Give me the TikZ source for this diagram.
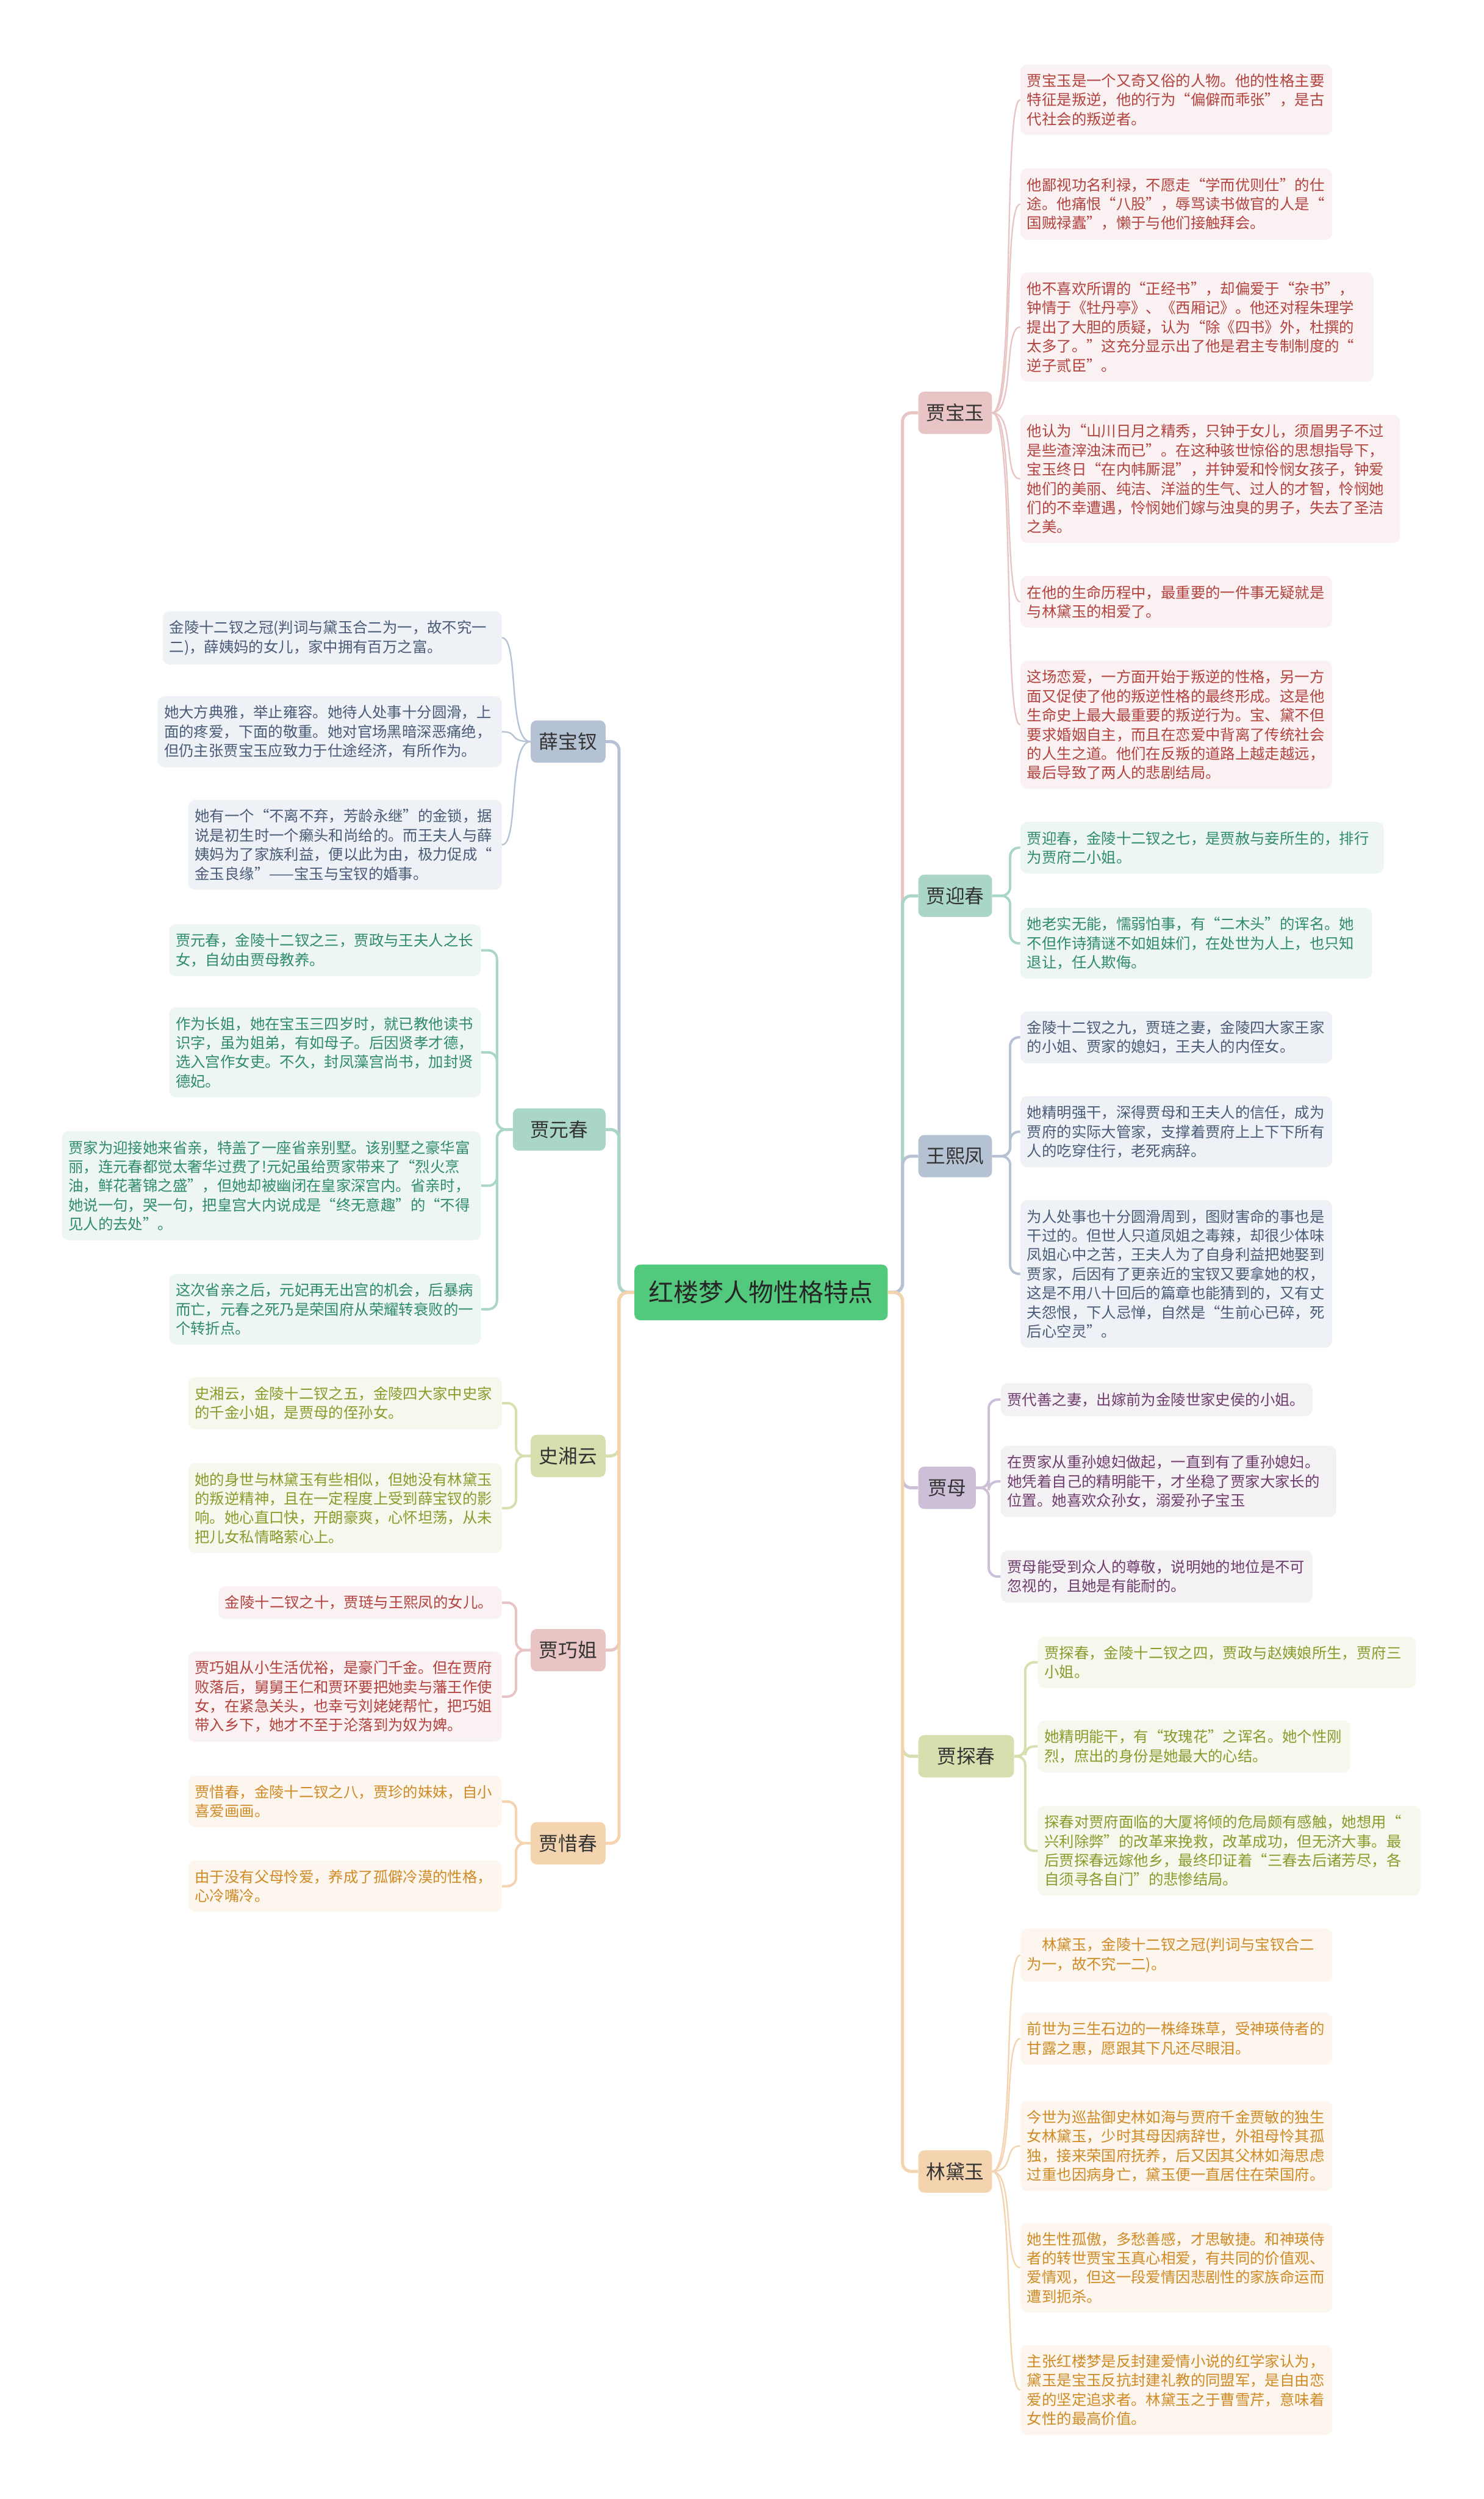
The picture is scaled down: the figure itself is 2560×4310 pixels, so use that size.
\documentclass[tikz,border=0pt]{standalone}
\usepackage{fontspec}
\setmainfont{Noto Sans CJK SC}
\definecolor{rootgreen}{HTML}{52C97D}
\definecolor{hongtext}{HTML}{B3423E}
\definecolor{hongfill}{HTML}{FAF2F2}
\definecolor{hongnode}{HTML}{E9C4C4}
\definecolor{qingtext}{HTML}{2E8B6C}
\definecolor{qingfill}{HTML}{EEF6F3}
\definecolor{qingnode}{HTML}{A9D6C9}
\definecolor{lantext}{HTML}{4A5B78}
\definecolor{lanfill}{HTML}{EEF2F6}
\definecolor{lannode}{HTML}{B4C2D4}
\definecolor{zitext}{HTML}{6E3D6C}
\definecolor{zifill}{HTML}{F4F1F5}
\definecolor{zinode}{HTML}{CDBFD7}
\definecolor{lvtext}{HTML}{8A9B2C}
\definecolor{lvfill}{HTML}{F6F8EE}
\definecolor{lvnode}{HTML}{D9DEAF}
\definecolor{chengtext}{HTML}{D08A25}
\definecolor{chengfill}{HTML}{FDF6EE}
\definecolor{chengnode}{HTML}{F3D4AF}
\newcommand\leaffont{\fontsize{14.6pt}{18.8pt}\selectfont}
\newcommand\catfont{\fontsize{19pt}{22pt}\selectfont}
\newcommand\rootfont{\fontsize{24.5pt}{28pt}\selectfont}
\tikzset{
  leaf/.style={rounded corners=0.24cm, inner xsep=0.23cm, inner ysep=0.32cm, align=left, font=\leaffont},
  leafR/.style={leaf, anchor=west},
  leafL/.style={leaf, anchor=east},
  hong/.style={fill=hongfill, text=hongtext},
  qing/.style={fill=qingfill, text=qingtext},
  lan/.style={fill=lanfill, text=lantext},
  zi/.style={fill=zifill, text=zitext},
  lv/.style={fill=lvfill, text=lvtext},
  cheng/.style={fill=chengfill, text=chengtext},
  person/.style={rounded corners=0.2cm, font=\catfont, text=black!80, minimum width=2.54cm, minimum height=1.46cm, inner sep=0pt},
  trunk/.style={line width=3pt, rounded corners=0.3cm},
  elbow/.style={line width=2.4pt, rounded corners=0.3cm},
  twig/.style={line width=1.4pt}
}
\begin{document}
\begin{tikzpicture}[x=0.02cm, y=-0.02cm]
\fill[white] (0,0) rectangle (2560,4310);
\useasboundingbox (0,0) rectangle (2560,4310);

\node[fill=rootgreen, rounded corners=0.2cm, font=\rootfont, text=black!85, minimum width=8.74cm, minimum height=1.92cm] (root) at (1313,2229) {红楼梦人物性格特点};

\node[person, fill=hongnode, anchor=west] (bao) at (1584,712) {贾宝玉};
\node[person, fill=qingnode, anchor=west] (ying) at (1584,1545) {贾迎春};
\node[person, fill=lannode, anchor=west] (wang) at (1584,1994) {王熙凤};
\node[person, fill=zinode, anchor=west, minimum width=1.98cm] (mu) at (1584,2566) {贾母};
\node[person, fill=lvnode, anchor=west, minimum width=3.3cm] (tan) at (1584,3029) {贾探春};
\node[person, fill=chengnode, anchor=west] (dai) at (1584,3745) {林黛玉};
\node[person, fill=lannode, anchor=east, minimum width=2.58cm] (xue) at (1045,1279) {薛宝钗};
\node[person, fill=qingnode, anchor=east, minimum width=3.2cm] (yuan) at (1045,1948) {贾元春};
\node[person, fill=lvnode, anchor=east, minimum width=2.58cm] (shi) at (1045,2511) {史湘云};
\node[person, fill=hongnode, anchor=east, minimum width=2.58cm] (qiao) at (1045,2846) {贾巧姐};
\node[person, fill=chengnode, anchor=east, minimum width=2.58cm] (xi) at (1045,3179) {贾惜春};

\coordinate (rtrunk) at (1557,2229);
\coordinate (ltrunk) at (1068,2229);
\draw[trunk, hongnode] (root.east) -- (rtrunk) |- (bao.west);
\draw[trunk, qingnode] (root.east) -- (rtrunk) |- (ying.west);
\draw[trunk, lannode] (root.east) -- (rtrunk) |- (wang.west);
\draw[trunk, zinode] (root.east) -- (rtrunk) |- (mu.west);
\draw[trunk, lvnode] (root.east) -- (rtrunk) |- (tan.west);
\draw[trunk, chengnode] (root.east) -- (rtrunk) |- (dai.west);
\draw[trunk, lannode] (root.west) -- (ltrunk) |- (xue.east);
\draw[trunk, qingnode] (root.west) -- (ltrunk) |- (yuan.east);
\draw[trunk, lvnode] (root.west) -- (ltrunk) |- (shi.east);
\draw[trunk, hongnode] (root.west) -- (ltrunk) |- (qiao.east);
\draw[trunk, chengnode] (root.west) -- (ltrunk) |- (xi.east);

\node[leafR, hong, text width=10.30cm] (bao1) at (1760,172) {贾宝玉是一个又奇又俗的人物。他的性格主要\\特征是叛逆，他的行为“偏僻而乖张”，是古\\代社会的叛逆者。};
\node[leafR, hong, text width=10.30cm] (bao2) at (1760,352) {他鄙视功名利禄，不愿走“学而优则仕”的仕\\途。他痛恨“八股”，辱骂读书做官的人是“\\国贼禄蠹”，懒于与他们接触拜会。};
\node[leafR, hong, text width=11.72cm] (bao3) at (1760,564) {他不喜欢所谓的“正经书”，却偏爱于“杂书”，\\钟情于《牡丹亭》、《西厢记》。他还对程朱理学\\提出了大胆的质疑，认为“除《四书》外，杜撰的\\太多了。”这充分显示出了他是君主专制制度的“\\逆子贰臣”。};
\node[leafR, hong, text width=12.64cm] (bao4) at (1760,826) {他认为“山川日月之精秀，只钟于女儿，须眉男子不过\\是些渣滓浊沫而已”。在这种骇世惊俗的思想指导下，\\宝玉终日“在内帏厮混”，并钟爱和怜悯女孩子，钟爱\\她们的美丽、纯洁、洋溢的生气、过人的才智，怜悯她\\们的不幸遭遇，怜悯她们嫁与浊臭的男子，失去了圣洁\\之美。};
\node[leafR, hong, text width=10.30cm] (bao5) at (1760,1038) {在他的生命历程中，最重要的一件事无疑就是\\与林黛玉的相爱了。};
\node[leafR, hong, text width=10.30cm] (bao6) at (1760,1250) {这场恋爱，一方面开始于叛逆的性格，另一方\\面又促使了他的叛逆性格的最终形成。这是他\\生命史上最大最重要的叛逆行为。宝、黛不但\\要求婚姻自主，而且在恋爱中背离了传统社会\\的人生之道。他们在反叛的道路上越走越远，\\最后导致了两人的悲剧结局。};

\node[leafR, qing, text width=12.08cm] (ying1) at (1760,1462) {贾迎春，金陵十二钗之七，是贾赦与妾所生的，排行\\为贾府二小姐。};
\node[leafR, qing, text width=11.68cm] (ying2) at (1760,1627) {她老实无能，懦弱怕事，有“二木头”的诨名。她\\不但作诗猜谜不如姐妹们，在处世为人上，也只知\\退让，任人欺侮。};

\node[leafR, lan, text width=10.30cm] (wang1) at (1760,1789) {金陵十二钗之九，贾琏之妻，金陵四大家王家\\的小姐、贾家的媳妇，王夫人的内侄女。};
\node[leafR, lan, text width=10.30cm] (wang2) at (1760,1952) {她精明强干，深得贾母和王夫人的信任，成为\\贾府的实际大管家，支撑着贾府上上下下所有\\人的吃穿住行，老死病辞。};
\node[leafR, lan, text width=10.30cm] (wang3) at (1760,2197) {为人处事也十分圆滑周到，图财害命的事也是\\干过的。但世人只道凤姐之毒辣，却很少体味\\凤姐心中之苦，王夫人为了自身利益把她娶到\\贾家，后因有了更亲近的宝钗又要拿她的权，\\这是不用八十回后的篇章也能猜到的，又有丈\\夫怨恨，下人忌惮，自然是“生前心已碎，死\\后心空灵”。};

\node[leafR, zi, text width=10.30cm] (mu1) at (1726,2414) {贾代善之妻，出嫁前为金陵世家史侯的小姐。};
\node[leafR, zi, text width=11.12cm] (mu2) at (1726,2555) {在贾家从重孙媳妇做起，一直到有了重孙媳妇。\\她凭着自己的精明能干，才坐稳了贾家大家长的\\位置。她喜欢众孙女，溺爱孙子宝玉};
\node[leafR, zi, text width=10.30cm] (mu3) at (1726,2719) {贾母能受到众人的尊敬，说明她的地位是不可\\忽视的，且她是有能耐的。};

\node[leafR, lv, text width=12.58cm] (tan1) at (1790,2867) {贾探春，金陵十二钗之四，贾政与赵姨娘所生，贾府三\\小姐。};
\node[leafR, lv, text width=10.32cm] (tan2) at (1790,3012) {她精明能干，有“玫瑰花”之诨名。她个性刚\\烈，庶出的身份是她最大的心结。};
\node[leafR, lv, text width=12.74cm] (tan3) at (1790,3192) {探春对贾府面临的大厦将倾的危局颇有感触，她想用“\\兴利除弊”的改革来挽救，改革成功，但无济大事。最\\后贾探春远嫁他乡，最终印证着“三春去后诸芳尽，各\\自须寻各自门”的悲惨结局。};

\node[leafR, cheng, text width=10.30cm] (dai1) at (1760,3372) {\hspace*{1em}林黛玉，金陵十二钗之冠(判词与宝钗合二\\为一，故不究一二)。};
\node[leafR, cheng, text width=10.30cm] (dai2) at (1760,3516) {前世为三生石边的一株绛珠草，受神瑛侍者的\\甘露之惠，愿跟其下凡还尽眼泪。};
\node[leafR, cheng, text width=10.30cm] (dai3) at (1760,3701) {今世为巡盐御史林如海与贾府千金贾敏的独生\\女林黛玉，少时其母因病辞世，外祖母怜其孤\\独，接来荣国府抚养，后又因其父林如海思虑\\过重也因病身亡，黛玉便一直居住在荣国府。};
\node[leafR, cheng, text width=10.30cm] (dai4) at (1760,3911) {她生性孤傲，多愁善感，才思敏捷。和神瑛侍\\者的转世贾宝玉真心相爱，有共同的价值观、\\爱情观，但这一段爱情因悲剧性的家族命运而\\遭到扼杀。};
\node[leafR, cheng, text width=10.30cm] (dai5) at (1760,4122) {主张红楼梦是反封建爱情小说的红学家认为，\\黛玉是宝玉反抗封建礼教的同盟军，是自由恋\\爱的坚定追求者。林黛玉之于曹雪芹，意味着\\女性的最高价值。};

\node[leafL, lan, text width=11.24cm] (xue1) at (866,1100) {金陵十二钗之冠(判词与黛玉合二为一，故不究一\\二)，薛姨妈的女儿，家中拥有百万之富。};
\node[leafL, lan, text width=11.42cm] (xue2) at (866,1262) {她大方典雅，举止雍容。她待人处事十分圆滑，上\\面的疼爱，下面的敬重。她对官场黑暗深恶痛绝，\\但仍主张贾宝玉应致力于仕途经济，有所作为。};
\node[leafL, lan, text width=10.36cm] (xue3) at (866,1457) {她有一个“不离不弃，芳龄永继”的金锁，据\\说是初生时一个癞头和尚给的。而王夫人与薛\\姨妈为了家族利益，便以此为由，极力促成“\\金玉良缘”——宝玉与宝钗的婚事。};

\node[leafL, qing, text width=10.30cm] (yuan1) at (830,1639) {贾元春，金陵十二钗之三，贾政与王夫人之长\\女，自幼由贾母教养。};
\node[leafL, qing, text width=10.30cm] (yuan2) at (830,1815) {作为长姐，她在宝玉三四岁时，就已教他读书\\识字，虽为姐弟，有如母子。后因贤孝才德，\\选入宫作女吏。不久，封凤藻宫尚书，加封贤\\德妃。};
\node[leafL, qing, text width=14.00cm] (yuan3) at (830,2045) {贾家为迎接她来省亲，特盖了一座省亲别墅。该别墅之豪华富\\丽，连元春都觉太奢华过费了!元妃虽给贾家带来了“烈火烹\\油，鲜花著锦之盛”，但她却被幽闭在皇家深宫内。省亲时，\\她说一句，哭一句，把皇宫大内说成是“终无意趣”的“不得\\见人的去处”。};
\node[leafL, qing, text width=10.30cm] (yuan4) at (830,2258) {这次省亲之后，元妃再无出宫的机会，后暴病\\而亡，元春之死乃是荣国府从荣耀转衰败的一\\个转折点。};

\node[leafL, lv, text width=10.36cm] (shi1) at (866,2420) {史湘云，金陵十二钗之五，金陵四大家中史家\\的千金小姐，是贾母的侄孙女。};
\node[leafL, lv, text width=10.36cm] (shi2) at (866,2601) {她的身世与林黛玉有些相似，但她没有林黛玉\\的叛逆精神，且在一定程度上受到薛宝钗的影\\响。她心直口快，开朗豪爽，心怀坦荡，从未\\把儿女私情略萦心上。};

\node[leafL, hong, text width=9.32cm] (qiao1) at (866,2764) {金陵十二钗之十，贾琏与王熙凤的女儿。};
\node[leafL, hong, text width=10.36cm] (qiao2) at (866,2926) {贾巧姐从小生活优裕，是豪门千金。但在贾府\\败落后，舅舅王仁和贾环要把她卖与藩王作使\\女，在紧急关头，也幸亏刘姥姥帮忙，把巧姐\\带入乡下，她才不至于沦落到为奴为婢。};

\node[leafL, cheng, text width=10.36cm] (xi1) at (866,3107) {贾惜春，金陵十二钗之八，贾珍的妹妹，自小\\喜爱画画。};
\node[leafL, cheng, text width=10.36cm] (xi2) at (866,3253) {由于没有父母怜爱，养成了孤僻冷漠的性格，\\心冷嘴冷。};

\foreach \k in {1,...,6}{
  \draw[twig, hongnode] (bao.east) .. controls +(40,0) and +(-30,0) .. (bao\k.west);
}
\foreach \k in {1,...,5}{
  \draw[twig, chengnode] (dai.east) .. controls +(40,0) and +(-30,0) .. (dai\k.west);
}
\foreach \k in {1,2,3}{
  \draw[twig, lannode] (xue.west) .. controls +(-40,0) and +(30,0) .. (xue\k.east);
}
\foreach \k in {1,2}{
  \draw[elbow, qingnode] (ying.east) -- ++(31,0) |- (ying\k.west);
}
\foreach \k in {1,2,3}{
  \draw[elbow, lannode] (wang.east) -- ++(31,0) |- (wang\k.west);
  \draw[elbow, zinode] (mu.east) -- ++(22,0) |- (mu\k.west);
  \draw[elbow, lvnode] (tan.east) -- ++(19,0) |- (tan\k.west);
}
\foreach \k in {1,...,4}{
  \draw[elbow, qingnode] (yuan.west) -- ++(-27,0) |- (yuan\k.east);
}
\foreach \k in {1,2}{
  \draw[elbow, lvnode] (shi.west) -- ++(-25,0) |- (shi\k.east);
  \draw[elbow, hongnode] (qiao.west) -- ++(-25,0) |- (qiao\k.east);
  \draw[elbow, chengnode] (xi.west) -- ++(-25,0) |- (xi\k.east);
}
\end{tikzpicture}
\end{document}
